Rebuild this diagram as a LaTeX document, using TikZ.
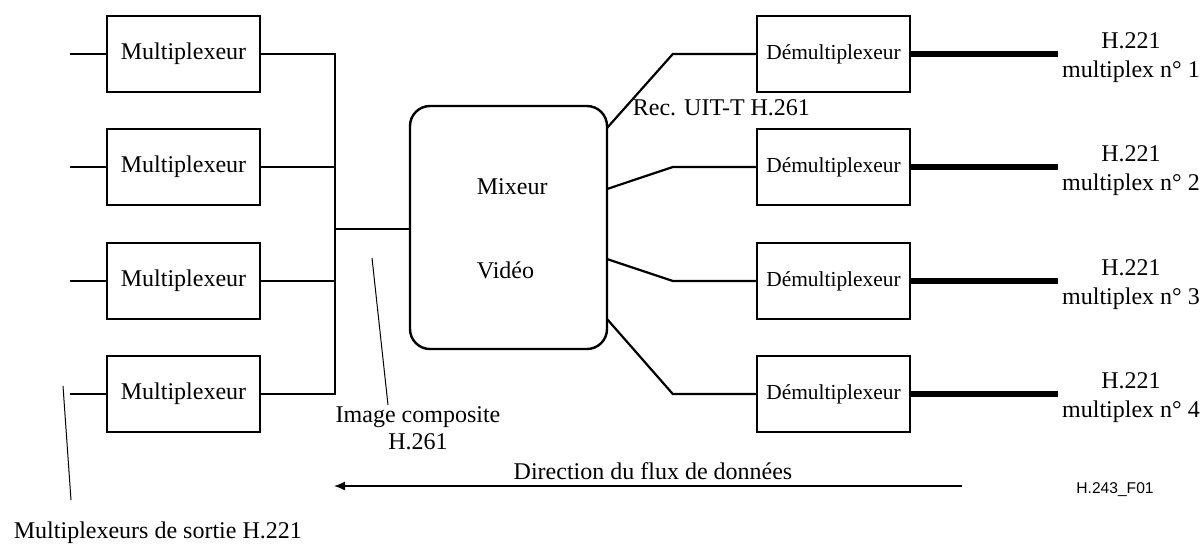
\documentclass[tikz,border=0pt]{standalone}
\usepackage{fontspec}
\setmainfont{Liberation Serif}
\newfontfamily\refsans{Liberation Sans}
\usepackage{tikz}
\usetikzlibrary{arrows.meta}

\tikzset{
  muxbox/.style={draw, line width=1.2pt, minimum width=76.5pt, minimum height=38pt, inner sep=0pt, font=\fontsize{12}{14}\selectfont},
  demuxbox/.style={muxbox, font=\fontsize{10.7}{13}\selectfont},
  wire/.style={line width=1.1pt},
  fatwire/.style={line width=3.3pt},
  leader/.style={line width=0.5pt},
  txt/.style={inner sep=0.75pt, align=center, font=\fontsize{12}{14.5}\selectfont},
}

\begin{document}
\begin{tikzpicture}[x=0.5pt,y=-0.5pt]
    \useasboundingbox (0,0) rectangle (1202,543);

    %Shape: Rectangle [multiplexeurs]
    \node[muxbox] (mux1) at (183.5,54) {Multiplexeur};
    \node[muxbox] (mux2) at (183.5,167) {Multiplexeur};
    \node[muxbox] (mux3) at (183.5,281) {Multiplexeur};
    \node[muxbox] (mux4) at (183.5,394) {Multiplexeur};

    %Shape: Rounded Rect [mixeur]
    \node[draw, line width=1.2pt, rounded corners=10pt, minimum width=98.5pt, minimum height=121.5pt] (mixer) at (508.5,227.5) {};
    % Text Node
    \node[txt, anchor=west] (mixtop) at (475,187) {Mixeur};
    % Text Node
    \node[txt, anchor=west] (mixbot) at (475,270) {Vidéo};

    %Shape: Rectangle [demultiplexeurs]
    \node[demuxbox] (dem1) at (833.5,54) {Démultiplexeur};
    \node[demuxbox] (dem2) at (833.5,167) {Démultiplexeur};
    \node[demuxbox] (dem3) at (833.5,281) {Démultiplexeur};
    \node[demuxbox] (dem4) at (833.5,394) {Démultiplexeur};

    %Straight Lines [entrees]
    \coordinate (in1) at (70,54);
    \coordinate (in2) at (70,167);
    \coordinate (in3) at (70,281);
    \coordinate (in4) at (70,394);
    \draw[wire] (in1) -- (mux1.west);
    \draw[wire] (in2) -- (mux2.west);
    \draw[wire] (in3) -- (mux3.west);
    \draw[wire] (in4) -- (mux4.west);

    %Straight Lines [bus]
    \coordinate (bus1) at (335,54);
    \coordinate (bus4) at (335,394);
    \coordinate (busmid) at (335,229);
    \draw[wire] (mux1.east) -- (bus1) -- (bus4) -- (mux4.east);
    \draw[wire] (mux2.east) -- (mux2.east -| bus1);
    \draw[wire] (mux3.east) -- (mux3.east -| bus1);
    \draw[wire] (busmid) -- (mixer.west |- busmid);

    %Straight Lines [sorties mixeur]
    \coordinate (mx1) at (607,128);
    \coordinate (mx2) at (607,189);
    \coordinate (mx3) at (607,259);
    \coordinate (mx4) at (607,319);
    \draw[wire] (mx1) -- ([xshift=-41.5pt]dem1.west) -- (dem1.west);
    \draw[wire] (mx2) -- ([xshift=-41.5pt]dem2.west) -- (dem2.west);
    \draw[wire] (mx3) -- ([xshift=-41.5pt]dem3.west) -- (dem3.west);
    \draw[wire] (mx4) -- ([xshift=-41.5pt]dem4.west) -- (dem4.west);

    %Straight Lines [multiplex H.221]
    \coordinate (out1) at (1058,54);
    \coordinate (out2) at (1058,167);
    \coordinate (out3) at (1058,281);
    \coordinate (out4) at (1058,394);
    \draw[fatwire] (dem1.east) -- (out1);
    \draw[fatwire] (dem2.east) -- (out2);
    \draw[fatwire] (dem3.east) -- (out3);
    \draw[fatwire] (dem4.east) -- (out4);

    % Text Node
    \node[txt] (lab1) at (1131,57.5) {H.221\\multiplex n° 1};
    % Text Node
    \node[txt] (lab2) at (1131,170.5) {H.221\\multiplex n° 2};
    % Text Node
    \node[txt] (lab3) at (1131,284.5) {H.221\\multiplex n° 3};
    % Text Node
    \node[txt] (lab4) at (1131,397.5) {H.221\\multiplex n° 4};

    % Text Node
    \node[txt, anchor=west] (rec) at (631,108) {Rec. UIT-T H.261};

    % Text Node
    \node[txt, font=\fontsize{12}{13.5}\selectfont] (compo) at (418,428.5) {Image composite\\H.261};
    \coordinate (compotop) at (372,258);
    \draw[leader] (compotop) -- (compo.north -| 388,0);

    % Text Node
    \node[txt, anchor=west] (sortie) at (12,533) {Multiplexeurs de sortie H.221};
    \coordinate (sortietop) at (63,386);
    \draw[leader] (sortietop) -- (71,500);

    %Straight Lines [flux]
    \coordinate (flowstart) at (962,486);
    \coordinate (flowend) at (334,486);
    \draw[line width=0.7pt, -{Latex[length=5.5pt,width=4.5pt]}] (flowstart) -- (flowend);
    % Text Node
    \node[txt] (flow) at (653,471) {Direction du flux de données};

    % Text Node
    \node[inner sep=0.75pt, font=\refsans\fontsize{7.8}{9}\selectfont] (figid) at (1115,490) {H.243\_F01};
\end{tikzpicture}
\end{document}
